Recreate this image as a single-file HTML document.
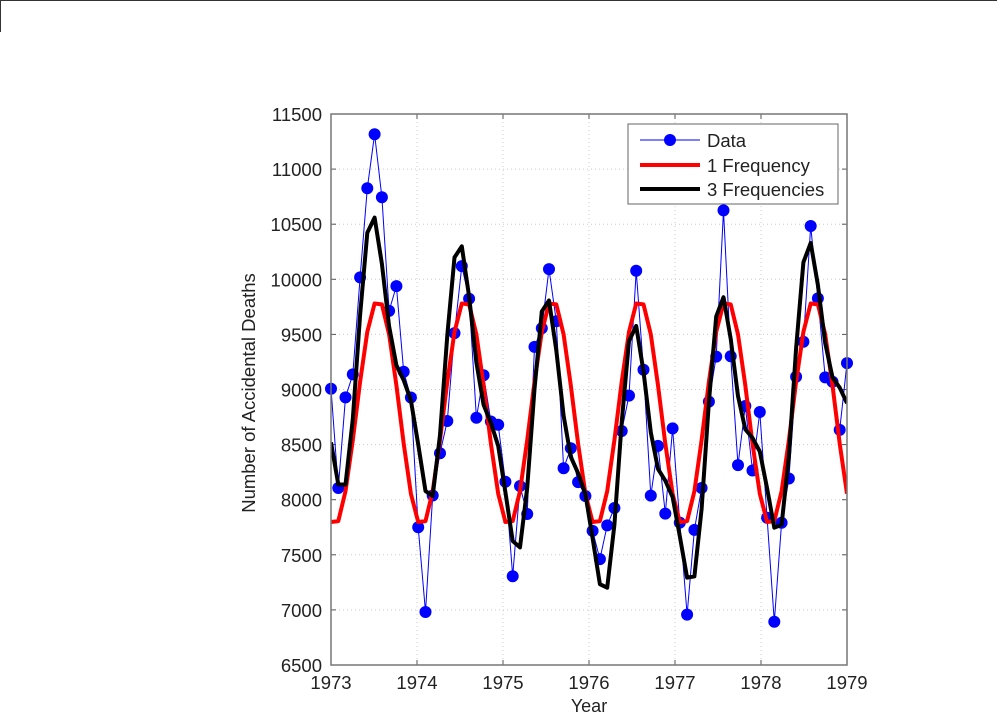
<!DOCTYPE html>
<html><head><meta charset="utf-8"><style>
html,body{margin:0;padding:0;background:#fff;}
svg{display:block;font-family:"Liberation Sans",Arial,sans-serif;}
</style></head><body>
<svg id="s" width="997" height="715" xmlns="http://www.w3.org/2000/svg"></svg>
<script>
var d=[9007,8106,8928,9137,10017,10826,11317,10744,9713,9938,9161,8927,
7750,6981,8038,8422,8714,9512,10120,9823,8743,9129,8710,8680,
8162,7306,8124,7870,9387,9556,10093,9620,8285,8466,8160,8034,
7717,7461,7767,7925,8623,8945,10078,9179,8037,8488,7874,8647,
7792,6957,7726,8106,8890,9299,10625,9302,8314,8850,8265,8796,
7836,6892,7791,8192,9115,9434,10484,9827,9110,9070,8633,9240];
var N=72,X0=331,X1=847,Y0=114,Y1=665;
function px(t){return X0+(t-1973)/6*(X1-X0);}
function py(v){return Y1-(v-6500)/5000*(Y1-Y0);}
function tn(n){return 1973+n*6/71;}
var mean=d.reduce(function(a,b){return a+b;},0)/N;
var A=[],B=[],M=[];
for(var k=0;k<=36;k++){var a=0,b=0;for(var n=0;n<N;n++){a+=d[n]*Math.cos(2*Math.PI*k*n/N);b+=d[n]*Math.sin(2*Math.PI*k*n/N);}A[k]=a;B[k]=b;M[k]=Math.hypot(a,b);}
function recon(ks){var r=[];for(var n=0;n<N;n++){var v=mean;ks.forEach(function(k){var f=(k==36)?1:2;v+=f/N*(A[k]*Math.cos(2*Math.PI*k*n/N)+B[k]*Math.sin(2*Math.PI*k*n/N));});r.push(v);}return r;}
var idx=[];for(var k=1;k<=36;k++)idx.push(k);idx.sort(function(a,b){return M[b]-M[a];});
var red=recon([6]),blk=recon(idx.slice(0,3));
function pts(arr){return arr.map(function(v,n){return px(tn(n)).toFixed(1)+","+py(v).toFixed(1);}).join(" ");}
var s='';
s+='<line x1="0" y1="0.5" x2="997" y2="0.5" stroke="#333" stroke-width="1"/><line x1="0.5" y1="0" x2="0.5" y2="32" stroke="#333" stroke-width="1"/>';
for(var i=1;i<6;i++){var x=px(1973+i);s+='<line x1="'+x+'" y1="'+Y0+'" x2="'+x+'" y2="'+Y1+'" stroke="#ccc" stroke-dasharray="1,3"/>';}
for(var v=7000;v<11500;v+=500){var y=py(v);s+='<line x1="'+X0+'" y1="'+y+'" x2="'+X1+'" y2="'+y+'" stroke="#ccc" stroke-dasharray="1,3"/>';}
for(var i=0;i<=6;i++){var x=px(1973+i);s+='<line x1="'+x+'" y1="'+Y1+'" x2="'+x+'" y2="'+(Y1-5)+'" stroke="#555"/><line x1="'+x+'" y1="'+Y0+'" x2="'+x+'" y2="'+(Y0+5)+'" stroke="#555"/>';s+='<text x="'+x+'" y="689" font-size="18.5" text-anchor="middle" fill="#222">'+(1973+i)+'</text>';}
for(var v=6500;v<=11500;v+=500){var y=py(v);s+='<line x1="'+X0+'" y1="'+y+'" x2="'+(X0+5)+'" y2="'+y+'" stroke="#555"/><line x1="'+X1+'" y1="'+y+'" x2="'+(X1-5)+'" y2="'+y+'" stroke="#555"/>';s+='<text x="'+(X0-9)+'" y="'+(y+7)+'" font-size="18.5" text-anchor="end" fill="#222">'+v+'</text>';}
s+='<text x="'+((X0+X1)/2)+'" y="712" font-size="18" text-anchor="middle" fill="#222">Year</text>';
s+='<text transform="translate(255,393) rotate(-90)" font-size="18.5" text-anchor="middle" fill="#222">Number of Accidental Deaths</text>';
s+='<defs><clipPath id="c"><rect x="'+X0+'" y="'+Y0+'" width="'+(X1-X0)+'" height="'+(Y1-Y0)+'"/></clipPath></defs>';
s+='<g clip-path="url(#c)">';
s+='<polyline points="'+pts(d)+'" fill="none" stroke="#00f" stroke-width="1"/>';
s+='</g>';
d.forEach(function(v,n){s+='<circle cx="'+px(tn(n)).toFixed(1)+'" cy="'+py(v).toFixed(1)+'" r="6" fill="#00f"/>';});
s+='<g clip-path="url(#c)">';
s+='<polyline points="'+pts(red)+'" fill="none" stroke="#f00" stroke-width="4" stroke-linejoin="round"/>';
s+='<polyline points="'+pts(blk)+'" fill="none" stroke="#000" stroke-width="4" stroke-linejoin="round"/>';
s+='</g>';
s+='<rect x="'+X0+'" y="'+Y0+'" width="'+(X1-X0)+'" height="'+(Y1-Y0)+'" fill="none" stroke="#777" stroke-width="1.5"/>';
s+='<rect x="628" y="124" width="210" height="80" fill="#fff" stroke="#666"/>';
s+='<line x1="640" y1="140" x2="700" y2="140" stroke="#00f"/><circle cx="670" cy="140" r="6" fill="#00f"/>';
s+='<text x="707" y="147" font-size="18.5" fill="#222">Data</text>';
s+='<line x1="640" y1="165" x2="700" y2="165" stroke="#f00" stroke-width="4"/><text x="707" y="172" font-size="18.5" fill="#222">1 Frequency</text>';
s+='<line x1="640" y1="189" x2="700" y2="189" stroke="#000" stroke-width="4"/><text x="707" y="196" font-size="18.5" fill="#222">3 Frequencies</text>';
document.getElementById('s').innerHTML=s;
</script>
</body></html>
